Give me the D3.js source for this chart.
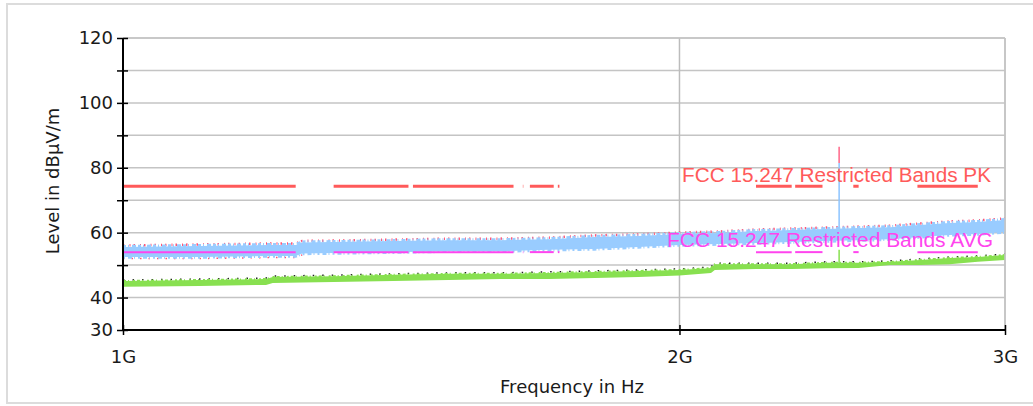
<!DOCTYPE html>
<html>
<head>
<meta charset="utf-8">
<script src="https://cdn.jsdelivr.net/npm/d3@7"></script>
<style>
  body { margin: 0; background: #fff; }
  svg { display: block; }
</style>
</head>
<body>
<div id="chart"></div>
<script>
// chart values
var yTicks = [30, 40, 50, 60, 70, 80, 90, 100, 110, 120];
var yLabels = [30, 40, 60, 80, 100, 120];
var xTicks = [1e9, 2e9, 3e9];

// limit lines (dBuV/m) and restricted bands (MHz)
var pkLimit = 74;
var avgLimit = 54;
var bandsMHz = [[1000, 1240], [1300, 1427], [1435, 1626.5], [1645.5, 1646.5], [1660, 1710],
  [1718.8, 1722.2], [2200, 2300], [2310, 2390], [2483.5, 2500], [2690, 2900]];

// peak trace envelope (blue)
var pkFreq = [1000, 1100, 1200, 1240, 1250, 1300, 1400, 1500, 1600, 1700, 1800, 1900, 2000,
  2100, 2200, 2300, 2400, 2500, 2600, 2700, 2800, 2900, 3000];
var pkHigh = [55.6, 55.9, 56.2, 56.2, 57.0, 57.1, 57.4, 57.7, 57.7, 58.0, 58.7, 59.0, 59.6,
  59.9, 60.5, 60.8, 61.1, 61.4, 61.7, 62.4, 63.0, 63.3, 63.9];
var pkLow = [52.5, 52.5, 52.8, 52.8, 53.6, 53.7, 54.0, 54.3, 54.3, 54.7, 55.0, 55.6, 56.2,
  56.5, 56.8, 57.1, 57.4, 57.7, 58.0, 58.7, 59.3, 59.6, 60.2];

// average trace envelope (green)
var avgFreq = [1000, 1100, 1195, 1205, 1300, 1400, 1500, 1600, 1700, 1800, 1900, 2000, 2080,
  2090, 2200, 2300, 2400, 2500, 2600, 2700, 2800, 2900, 3000];
var avgHigh = [45.1, 45.4, 45.7, 46.3, 46.6, 47.0, 47.3, 47.3, 47.6, 47.9, 48.2, 48.5, 49.1,
  50.3, 50.3, 50.3, 50.7, 50.7, 51.0, 51.6, 52.2, 52.5, 53.1];
var avgLow = [43.3, 43.6, 43.9, 44.5, 44.8, 45.1, 45.4, 45.7, 45.7, 46.0, 46.3, 46.8, 47.6,
  48.5, 48.8, 48.8, 49.0, 49.1, 50.0, 50.0, 50.3, 51.0, 51.6];

// carrier spike
var carrierMHz = 2440;
var carrierMax = 86.5;
var carrierPk = 81.5;
var carrierAvg = 54.7;

var svgWidth = 1033;
var svgHeight = 406;
var plot = { left: 123, right: 1005, top: 38, bottom: 330 };

var svg = d3.select("#chart").append("svg")
  .attr("width", svgWidth)
  .attr("height", svgHeight);

// outer panel frame
svg.append("rect")
  .attr("x", 7).attr("y", 4)
  .attr("width", 1030).attr("height", 399)
  .attr("fill", "#fff")
  .attr("stroke", "#dcdcdc")
  .attr("stroke-width", 2);

var x = d3.scaleLog().domain([1e9, 3e9]).range([plot.left, plot.right]);
var y = d3.scaleLinear().domain([30, 120]).range([plot.bottom, plot.top]);

// grid
svg.append("g").selectAll("line")
  .data(yTicks.filter(d => d > 30))
  .enter().append("line")
  .attr("x1", plot.left).attr("x2", plot.right)
  .attr("y1", d => y(d)).attr("y2", d => y(d))
  .attr("stroke", "#c4c4c4").attr("stroke-width", 1.5);

svg.append("g").selectAll("line")
  .data(xTicks.slice(1))
  .enter().append("line")
  .attr("x1", d => x(d)).attr("x2", d => x(d))
  .attr("y1", plot.top).attr("y2", plot.bottom)
  .attr("stroke", "#bcbcbc").attr("stroke-width", 1.5);

var mhz = d => d * 1e6;

// restricted band limit lines
var bands = bandsMHz.map(b => [Math.max(b[0], 1000), Math.min(b[1], 3000)]);

svg.append("g").selectAll("line")
  .data(bands)
  .enter().append("line")
  .attr("x1", d => x(mhz(d[0]))).attr("x2", d => x(mhz(d[1])))
  .attr("y1", y(pkLimit) - 1).attr("y2", y(pkLimit) - 1)
  .attr("stroke", "#ff5a5a").attr("stroke-width", 3);

var pkData = pkFreq.map((f, i) => ({ f: mhz(f), hi: pkHigh[i], lo: pkLow[i] }));
var avgData = avgFreq.map((f, i) => ({ f: mhz(f), hi: avgHigh[i], lo: avgLow[i] }));

var edge = (key, off) => d3.line().x(d => x(d.f)).y(d => y(d[key]) + off);

// peak trace: red max-hold speckles behind the blue band
svg.append("path")
  .attr("d", edge("hi", -1.5)(pkData))
  .attr("fill", "none").attr("stroke", "#ff5577")
  .attr("stroke-width", 2.5).attr("stroke-dasharray", "1.5,5,1,3");

svg.append("path")
  .attr("d", edge("lo", 1.5)(pkData.filter(d => d.f <= 1.25e9)))
  .attr("fill", "none").attr("stroke", "#ff5577")
  .attr("stroke-width", 1.5).attr("stroke-dasharray", "1.5,7");

// carrier spike
svg.append("line")
  .attr("x1", x(mhz(carrierMHz))).attr("x2", x(mhz(carrierMHz)))
  .attr("y1", y(carrierMax)).attr("y2", y(carrierPk))
  .attr("stroke", "#ff6688").attr("stroke-width", 1.5);

svg.append("line")
  .attr("x1", x(mhz(carrierMHz))).attr("x2", x(mhz(carrierMHz)))
  .attr("y1", y(carrierPk)).attr("y2", y(61))
  .attr("stroke", "#8cc4ff").attr("stroke-width", 1.5);

var area = d3.area().x(d => x(d.f)).y0(d => y(d.lo)).y1(d => y(d.hi));

svg.append("path")
  .attr("d", area(pkData))
  .attr("fill", "#99ccff");

// ragged edges of the blue band
svg.append("path")
  .attr("d", edge("hi", -0.5)(pkData))
  .attr("fill", "none").attr("stroke", "#99ccff")
  .attr("stroke-width", 3).attr("stroke-dasharray", "3,2,1,3,4,2");
svg.append("path")
  .attr("d", edge("lo", 0.5)(pkData))
  .attr("fill", "none").attr("stroke", "#99ccff")
  .attr("stroke-width", 2.5).attr("stroke-dasharray", "2,3,4,2,1,3");

// average trace with black dots behind
svg.append("path")
  .attr("d", edge("hi", -1)(avgData))
  .attr("fill", "none").attr("stroke", "#222")
  .attr("stroke-width", 1.5).attr("stroke-dasharray", "1.5,8");

svg.append("path")
  .attr("d", area(avgData))
  .attr("fill", "#88e050");

svg.append("path")
  .attr("d", edge("hi", 0)(avgData))
  .attr("fill", "none").attr("stroke", "#88e050")
  .attr("stroke-width", 2).attr("stroke-dasharray", "3,2,1,4,2,2");

svg.append("line")
  .attr("x1", x(mhz(carrierMHz))).attr("x2", x(mhz(carrierMHz)))
  .attr("y1", y(carrierAvg)).attr("y2", y(50.5))
  .attr("stroke", "#88e050").attr("stroke-width", 1.5);

// average limit lines
svg.append("g").selectAll("line")
  .data(bands)
  .enter().append("line")
  .attr("x1", d => x(mhz(d[0]))).attr("x2", d => x(mhz(d[1])))
  .attr("y1", y(avgLimit)).attr("y2", y(avgLimit))
  .attr("stroke", "#ff44ee").attr("stroke-width", 2);

// limit labels
svg.append("text")
  .attr("x", 682).attr("y", 182)
  .attr("font-family", "Liberation Sans, Arial, sans-serif")
  .attr("font-size", 20)
  .attr("fill", "#ff5a5a")
  .attr("textLength", 309).attr("lengthAdjust", "spacingAndGlyphs")
  .text("FCC 15.247 Restricted Bands PK");

svg.append("text")
  .attr("x", 667).attr("y", 247)
  .attr("font-family", "Liberation Sans, Arial, sans-serif")
  .attr("font-size", 20)
  .attr("fill", "#ff44ee")
  .attr("textLength", 326).attr("lengthAdjust", "spacingAndGlyphs")
  .text("FCC 15.247 Restricted Bands AVG");

// plot frame top / right
svg.append("line")
  .attr("x1", plot.left).attr("x2", plot.right)
  .attr("y1", plot.top).attr("y2", plot.top)
  .attr("stroke", "#c4c4c4").attr("stroke-width", 1.5);
svg.append("line")
  .attr("x1", plot.right).attr("x2", plot.right)
  .attr("y1", plot.top).attr("y2", plot.bottom)
  .attr("stroke", "#c4c4c4").attr("stroke-width", 1.5);

// axes
var leftAxis = d3.axisLeft(y)
  .tickValues(yTicks)
  .tickSize(6)
  .tickPadding(4)
  .tickFormat(d => yLabels.includes(d) ? d : "");

var gy = svg.append("g")
  .attr("transform", `translate(${plot.left}, 0)`)
  .call(leftAxis);
gy.selectAll(".tick line").attr("x1", 5).attr("stroke-width", 1.5);
gy.select(".domain").attr("stroke-width", 2).attr("d", `M0,${plot.top}V${plot.bottom}`);
gy.selectAll("text")
  .attr("font-family", "DejaVu Sans, sans-serif")
  .attr("font-size", 18)
  .attr("fill", "#1a1a1a");

var bottomAxis = d3.axisBottom(x)
  .tickValues(xTicks)
  .tickSize(5)
  .tickPadding(15)
  .tickFormat(d => (d / 1e9) + "G");

var gx = svg.append("g")
  .attr("transform", `translate(0, ${plot.bottom})`)
  .call(bottomAxis);
gx.selectAll(".tick line").attr("y1", -5).attr("stroke-width", 1.5);
gx.select(".domain").attr("stroke-width", 2).attr("d", `M${plot.left},0H${plot.right}`);
gx.selectAll("text")
  .attr("font-family", "DejaVu Sans, sans-serif")
  .attr("font-size", 18)
  .attr("fill", "#1a1a1a");

// axis titles
svg.append("text")
  .attr("x", 572).attr("y", 393)
  .attr("text-anchor", "middle")
  .attr("font-family", "DejaVu Sans, sans-serif")
  .attr("font-size", 18)
  .attr("fill", "#1a1a1a")
  .text("Frequency in Hz");

svg.append("text")
  .attr("transform", "translate(59, 181) rotate(-90)")
  .attr("text-anchor", "middle")
  .attr("font-family", "DejaVu Sans, sans-serif")
  .attr("font-size", 18)
  .attr("fill", "#1a1a1a")
  .text("Level in dBµV/m");
</script>
</body>
</html>
